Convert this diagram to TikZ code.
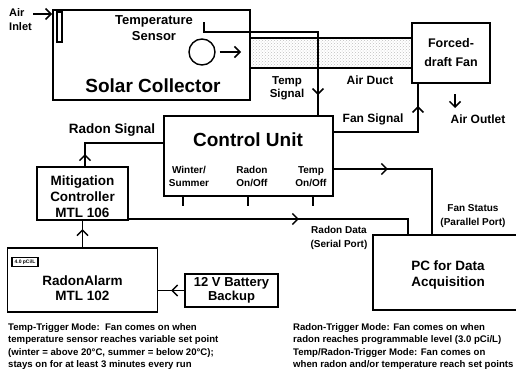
\documentclass[tikz,border=0pt]{standalone}
\usepackage{fontspec}
\setmainfont{Liberation Sans}
\usetikzlibrary{arrows.meta,decorations.markings,patterns}

\begin{document}
\begin{tikzpicture}[x=1pt,y=-1pt,
        box/.style={draw,line width=1.8pt,inner sep=0pt},
        wire/.style={line width=1.5pt},
        lbl/.style={font=\bfseries\fontsize{12}{16}\selectfont,align=center,inner sep=0pt},
        boxlbl/.style={font=\bfseries\fontsize{13.5}{16}\selectfont,align=center,inner sep=0pt},
        big/.style={font=\bfseries\fontsize{19}{22}\selectfont,inner sep=0pt},
        small/.style={font=\bfseries\fontsize{10}{13.5}\selectfont,align=center,inner sep=0pt},
        note/.style={font=\bfseries\fontsize{9.6}{12.5}\selectfont,align=left,anchor=north west,inner sep=0pt},
        sigarrow/.style={-{Straight Barb[length=5.5pt,width=11pt]}},
        midarr/.style={postaction={decorate},decoration={markings,mark=at position #1 with {\arrow{Straight Barb[length=5.5pt,width=11pt]}}}}]
    \useasboundingbox (0,0) rectangle (516,378);
    \clip (0,0) rectangle (516,378);

    \node[box,minimum width=197pt,minimum height=90pt] (collector) at (151.5,55) {};
    \node[box,line width=1.4pt,minimum width=5pt,minimum height=30pt] (inlet) at (59.5,27) {};
    \node[lbl,align=left,anchor=west,font=\bfseries\fontsize{11}{14}\selectfont] (inlettxt) at (9,20) {Air\\Inlet};
    \coordinate (inleta) at (33,14);
    \draw[wire,sigarrow] (inleta) -- (collector.west |- inleta);
    \node[draw,circle,line width=1.4pt,minimum size=26pt,inner sep=0pt] (sensor) at (202,52) {};
    \node[lbl,font=\bfseries\fontsize{13}{16}\selectfont] (sensortxt) at (154,28.5) {Temperature\\Sensor};
    \node[big] (collectortxt) at (153,86) {Solar Collector};

    \node[box,minimum width=162pt,minimum height=30pt,pattern=crosshatch dots,pattern color=black!25] (duct) at (331,53) {};
    \node[box,boxlbl,font=\bfseries\fontsize{12.5}{19}\selectfont,minimum width=78pt,minimum height=60pt] (fan) at (451,53) {Forced-\\draft Fan};
    \coordinate (ductin) at (241,52);
    \draw[wire,sigarrow] ([xshift=4pt]sensor.east) -- (ductin);
    \node[lbl] (ducttxt) at (370,80) {Air Duct};
    \coordinate (outa) at (455,94);
    \coordinate (outb) at (455,108);
    \draw[wire,sigarrow] (outa) -- (outb);
    \node[lbl] (outlet) at (478,119) {Air Outlet};

    \node[box,minimum width=169pt,minimum height=80pt] (control) at (248.5,156) {};
    \node[big] (controltxt) at (248,140) {Control Unit};
    \node[small] (season) at (189,176.5) {Winter/\\Summer};
    \node[small] (radonsw) at (252,176.5) {Radon\\On/Off};
    \node[small] (tempsw) at (311,176.5) {Temp\\On/Off};
    \foreach \x in {183,248,313}
        \draw[wire] (control.south -| \x,0) -- ++(0,9);

    \coordinate (probe) at (204,22);
    \draw[wire,midarr=-20pt] (probe) |- (318,32) -- (control.north -| 318,0);
    \node[lbl,font=\bfseries\fontsize{11.5}{13}\selectfont] (tempsig) at (287,88) {Temp\\Signal};
    \draw[wire,midarr=-22pt] (control.east |- 0,132) -- (418,132) -- (fan.south -| 418,0);
    \node[lbl] (fansig) at (373,119) {Fan Signal};

    \node[box,minimum width=91pt,minimum height=53pt] (mitig) at (82.5,193.5) {};
    \node[boxlbl] (mitigtxt) at (82.5,197) {Mitigation\\Controller\\MTL 106};
    \draw[wire,midarr=12pt] (mitig.north -| 85,0) |- (control.west |- 0,143);
    \node[boxlbl] (radonsig) at (112,130) {Radon Signal};

    \node[box,minimum width=160pt,minimum height=75pt] (pc) at (453,272.5) {};
    \node[boxlbl] (pctxt) at (448,275) {PC for Data\\Acquisition};
    \draw[wire,midarr=54pt] (control.east |- 0,169) -- (432,169) -- (pc.north -| 432,0);
    \node[small] (fanstat) at (473,216) {Fan Status\\(Parallel Port)};
    \draw[wire,midarr=170pt] (mitig.east |- 0,219) -- (408,219) -- (pc.north -| 408,0);
    \node[small] (radondata) at (339,238) {Radon Data\\(Serial Port)};

    \node[box,minimum width=150pt,minimum height=64pt] (alarm) at (82.5,280) {};
    \node[boxlbl,font=\bfseries\fontsize{13.5}{15}\selectfont] (alarmtxt) at (82.5,288) {RadonAlarm\\MTL 102};
    \node[draw,line width=1.4pt,font=\bfseries\fontsize{5}{5}\selectfont,inner sep=1pt,minimum width=26pt,minimum height=9pt] (level) at (25,262) {4.0 pCi/L};
    \draw[wire,midarr=18pt] (alarm.north) -- (mitig.south);
    \node[box,boxlbl,font=\bfseries\fontsize{13}{14}\selectfont,minimum width=93pt,minimum height=33pt] (battery) at (231.5,290.5) {12 V Battery\\Backup};
    \draw[wire,midarr=13pt] (battery.west) -- (alarm.east |- battery.west);

    \node[note] (tempnote) at (8,323) {Temp-Trigger Mode:\ \ Fan comes on when\\temperature sensor reaches variable set point\\(winter = above 20°C, summer = below 20°C);\\stays on for at least 3 minutes every run};
    \node[note] (radonnote) at (293,323) {Radon-Trigger Mode: Fan comes on when\\radon reaches programmable level (3.0 pCi/L)\\Temp/Radon-Trigger Mode: Fan comes on\\when radon and/or temperature reach set points};
\end{tikzpicture}
\end{document}
